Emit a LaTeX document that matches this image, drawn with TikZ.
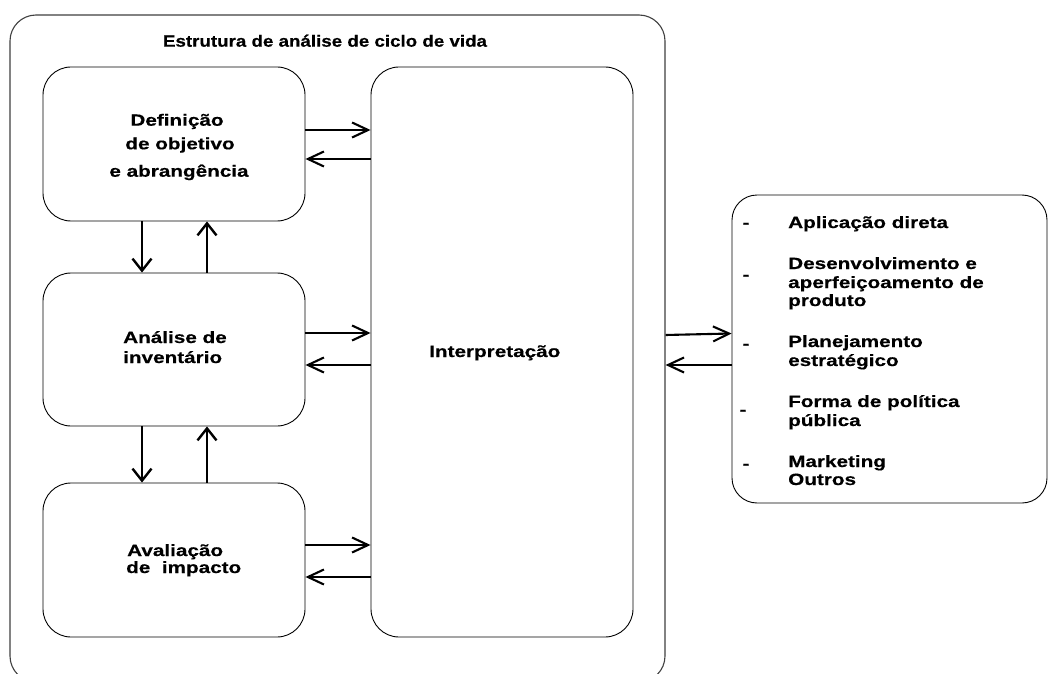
\documentclass[tikz,border=0pt]{standalone}
\usepackage{fontspec}
\setmainfont{Liberation Sans}[FakeStretch=1.27,BoldFeatures={FakeBold=0.4}]
\newfontfamily\titlefont{Liberation Sans}[FakeStretch=1.15,BoldFeatures={FakeBold=0.4}]
\usetikzlibrary{arrows.meta}
\begin{document}
\begin{tikzpicture}[x=1pt,y=-1pt,
  box/.style={draw=black, line width=0.9pt, rounded corners=28pt, inner sep=0pt, rectangle},
  outerbox/.style={draw=black!75, line width=1.1pt, rounded corners=26pt, inner sep=0pt, rectangle},
  txt/.style={font=\fontsize{16.3}{19}\selectfont\bfseries, inner sep=0pt},
  harr/.style={line width=2.1pt, -{Straight Barb[length=16pt,width=15pt,line width=2.1pt]}},
  varr/.style={line width=2.7pt, -{Straight Barb[length=12pt,width=19pt,line width=2.4pt]}}
]
\useasboundingbox (0,0) rectangle (1050,674);
\fill[white] (0,0) rectangle (1050,674);

% boxes
\node[outerbox, minimum width=655pt, minimum height=667pt] (outer) at (337.5,348.5) {};
\node[box, minimum width=262pt, minimum height=154pt] (def) at (174,144) {};
\node[box, minimum width=262pt, minimum height=153pt] (ana) at (174,349.5) {};
\node[box, minimum width=262pt, minimum height=154pt] (ava) at (174,560) {};
\node[box, minimum width=262pt, minimum height=570pt] (int) at (502,352) {};
\node[box, rounded corners=25pt, minimum width=315pt, minimum height=308pt] (app) at (889.5,349) {};

% texts
\node[txt, font=\fontsize{16.3}{19}\titlefont\bfseries, anchor=base] (title) at (325,46.7) {Estrutura de análise de ciclo de vida};
\node[txt, anchor=base] (d1) at (177,125.7) {Definição};
\node[txt, anchor=base] (d2) at (180,149.3) {de objetivo};
\node[txt, anchor=base] (d3) at (179,176.7) {e abrangência};
\node[txt, anchor=base west] (a1) at (123,343) {Análise de};
\node[txt, anchor=base west] (a2) at (123,363) {inventário};
\node[txt, anchor=base west] (v1) at (127,556) {Avaliação};
\node[txt, anchor=base west] (v2) at (126,573) {de\ \ impacto};
\node[txt, anchor=base west] (i1) at (429,357) {Interpretação};

% right list
\node[txt, anchor=base] (b1) at (746,228) {-};
\node[txt, anchor=base] (b2) at (746,280) {-};
\node[txt, anchor=base] (b3) at (746,349) {-};
\node[txt, anchor=base] (b4) at (743,415) {-};
\node[txt, anchor=base] (b5) at (746,469) {-};
\node[txt, anchor=base west] (r1) at (788,228) {Aplicação direta};
\node[txt, anchor=base west] (r2) at (788,269) {Desenvolvimento e};
\node[txt, anchor=base west] (r3) at (788,288) {aperfeiçoamento de};
\node[txt, anchor=base west] (r4) at (788,306) {produto};
\node[txt, anchor=base west] (r5) at (788,347) {Planejamento};
\node[txt, anchor=base west] (r6) at (788,366) {estratégico};
\node[txt, anchor=base west] (r7) at (788,407) {Forma de política};
\node[txt, anchor=base west] (r8) at (788,426) {pública};
\node[txt, anchor=base west] (r9) at (788,467) {Marketing};
\node[txt, anchor=base west] (r10) at (788,485) {Outros};

% vertical arrows
\draw[varr] ([xshift=-32pt]def.south) -- ([xshift=-32pt]ana.north);
\draw[varr] ([xshift=33pt]ana.north) -- ([xshift=33pt]def.south);
\draw[varr] ([xshift=-32pt]ana.south) -- ([xshift=-32pt]ava.north);
\draw[varr] ([xshift=33pt]ava.north) -- ([xshift=33pt]ana.south);

% horizontal arrows to interpretation
\draw[harr] ([yshift=14pt]def.east) -- ([yshift=14pt]def.east -| int.west);
\draw[harr] ([yshift=-15pt]def.east -| int.west) -- ([yshift=-15pt]def.east);
\draw[harr] ([yshift=16.5pt]ana.east) -- ([yshift=16.5pt]ana.east -| int.west);
\draw[harr] ([yshift=-15.5pt]ana.east -| int.west) -- ([yshift=-15.5pt]ana.east);
\draw[harr] ([yshift=15pt]ava.east) -- ([yshift=15pt]ava.east -| int.west);
\draw[harr] ([yshift=-17pt]ava.east -| int.west) -- ([yshift=-17pt]ava.east);

% arrows to applications
\draw[harr] ([yshift=14pt]app.west -| outer.east) -- ([yshift=15.5pt]app.west);
\draw[harr] ([yshift=-16pt]app.west) -- ([yshift=-16pt]app.west -| outer.east);
\end{tikzpicture}
\end{document}
